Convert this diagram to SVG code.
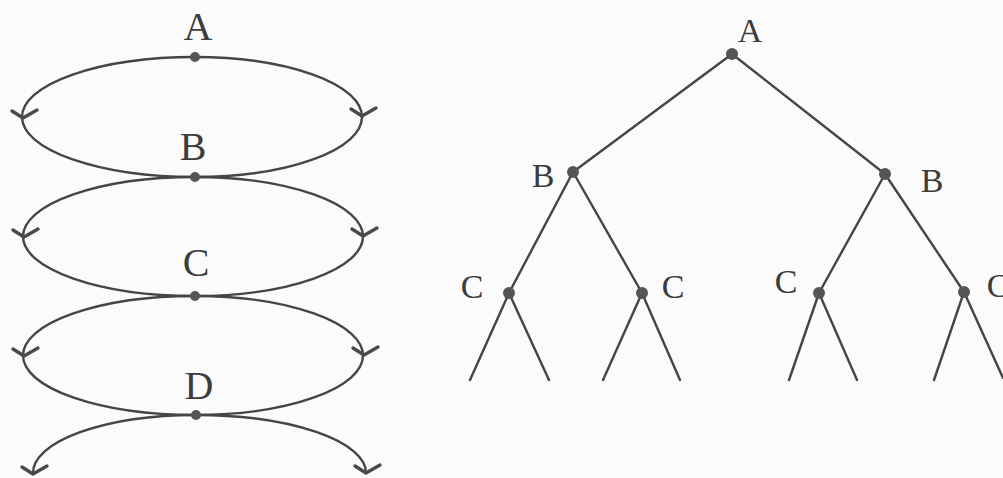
<svg xmlns="http://www.w3.org/2000/svg" xmlns:xlink="http://www.w3.org/1999/xlink" width="1003" height="478" viewBox="0 0 1003 478">
  <defs>
    <style>
      .bg { fill: #fbfbfb; }
      .edge { fill: none; stroke: #454545; stroke-width: 2.4; stroke-linecap: round; }
      .head { fill: none; stroke: #4a4a4a; stroke-width: 3.4; stroke-linecap: round; stroke-linejoin: round; }
      .dot { fill: #555555; }
      .lbl { font-family: "Liberation Serif", "Times New Roman", serif; fill: #3c3c3c; text-anchor: middle; }
      .big { font-size: 40px; }
      .sm { font-size: 34px; }
    </style>
    <path id="chev" class="head" d="M -11,-7 L 0,0 L 14,-8"/>
  </defs>
  <rect class="bg" x="0" y="0" width="1003" height="478"/>

  <g id="connectors">
    <!-- left loops -->
    <path class="edge" d="M 195,57 A 173 60 0 0 0 22,117 A 173 60 0 0 0 195,177"/>
    <path class="edge" d="M 195,57 A 167 60 0 0 1 362,117 A 167 60 0 0 1 195,177"/>
    <path class="edge" d="M 195,177 A 172 59.5 0 0 0 23,236.5 A 172 59.5 0 0 0 195,296"/>
    <path class="edge" d="M 195,177 A 168 59.5 0 0 1 363,236.5 A 168 59.5 0 0 1 195,296"/>
    <path class="edge" d="M 195,296 A 172 59.5 0 0 0 23,355.5 A 172 59.5 0 0 0 196,415"/>
    <path class="edge" d="M 195,296 A 168 59.5 0 0 1 363,355.5 A 168 59.5 0 0 1 196,415"/>
    <path class="edge" d="M 196,415 A 163 58 0 0 0 33,473"/>
    <path class="edge" d="M 196,415 A 170 58 0 0 1 366,473"/>
    <use xlink:href="#chev" href="#chev" x="23" y="118"/>
    <use xlink:href="#chev" href="#chev" x="362" y="116"/>
    <use xlink:href="#chev" href="#chev" x="24" y="237"/>
    <use xlink:href="#chev" href="#chev" x="363" y="236"/>
    <use xlink:href="#chev" href="#chev" x="24" y="356"/>
    <use xlink:href="#chev" href="#chev" x="364" y="355"/>
    <use xlink:href="#chev" href="#chev" x="33" y="474"/>
    <use xlink:href="#chev" href="#chev" x="366" y="473"/>
    <!-- right tree -->
    <line class="edge" x1="732" y1="54" x2="573" y2="172"/>
    <line class="edge" x1="732" y1="54" x2="885" y2="174"/>
    <line class="edge" x1="573" y1="172" x2="509" y2="293"/>
    <line class="edge" x1="573" y1="172" x2="642" y2="293"/>
    <line class="edge" x1="885" y1="174" x2="819" y2="293"/>
    <line class="edge" x1="885" y1="174" x2="964" y2="292"/>
    <line class="edge" x1="509" y1="293" x2="470" y2="380"/>
    <line class="edge" x1="509" y1="293" x2="549" y2="380"/>
    <line class="edge" x1="642" y1="293" x2="603" y2="380"/>
    <line class="edge" x1="642" y1="293" x2="680" y2="380"/>
    <line class="edge" x1="819" y1="293" x2="789" y2="380"/>
    <line class="edge" x1="819" y1="293" x2="857" y2="380"/>
    <line class="edge" x1="964" y1="292" x2="934" y2="380"/>
    <line class="edge" x1="964" y1="292" x2="1003" y2="378"/>
  </g>

  <g id="loopA"><circle class="dot" cx="195" cy="57" r="5"/><text class="lbl big" x="198" y="40">A</text></g>
  <g id="loopB"><circle class="dot" cx="195" cy="177" r="5"/><text class="lbl big" x="193" y="160">B</text></g>
  <g id="loopC"><circle class="dot" cx="195" cy="296" r="5"/><text class="lbl big" x="196" y="276">C</text></g>
  <g id="loopD"><circle class="dot" cx="196" cy="415" r="5"/><text class="lbl big" x="199" y="399">D</text></g>

  <g id="treeA"><circle class="dot" cx="732" cy="54" r="6"/><text class="lbl sm" x="750" y="42">A</text></g>
  <g id="treeB1"><circle class="dot" cx="573" cy="172" r="6"/><text class="lbl sm" x="543" y="187">B</text></g>
  <g id="treeB2"><circle class="dot" cx="885" cy="174" r="6"/><text class="lbl sm" x="932" y="192">B</text></g>
  <g id="treeC1"><circle class="dot" cx="509" cy="293" r="6"/><text class="lbl sm" x="472" y="298">C</text></g>
  <g id="treeC2"><circle class="dot" cx="642" cy="293" r="6"/><text class="lbl sm" x="673" y="298">C</text></g>
  <g id="treeC3"><circle class="dot" cx="819" cy="293" r="6"/><text class="lbl sm" x="786" y="293">C</text></g>
  <g id="treeC4"><circle class="dot" cx="964" cy="292" r="6"/><text class="lbl sm" x="998" y="297">C</text></g>
</svg>
